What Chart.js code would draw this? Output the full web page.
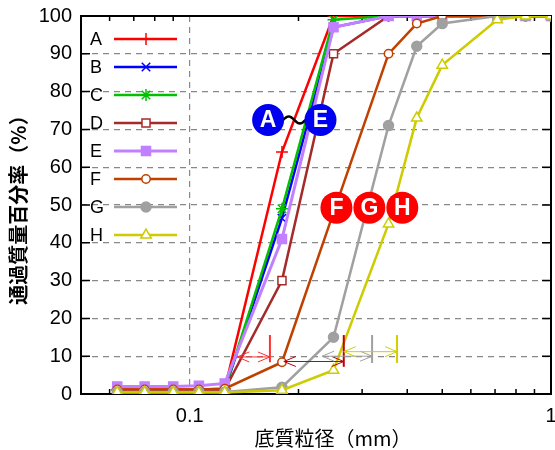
<!DOCTYPE html>
<html>
<head>
<meta charset="utf-8">
<script src="https://cdn.jsdelivr.net/npm/chart.js@4"></script>
<style>
  html, body { margin: 0; padding: 0; background: #fff; }
</style>
</head>
<body>
<canvas id="gradingChart" width="555" height="450"></canvas>
<script>
// Sieve sizes (mm) and percent passing for each sample
const sieveSizes = [0.063, 0.075, 0.090, 0.106, 0.125, 0.180, 0.250, 0.355, 0.425, 0.500, 0.710, 0.850, 1.000];
const seriesNames = ['A', 'B', 'C', 'D', 'E', 'F', 'G', 'H'];
const passA = [1.2, 1.2, 1.2, 1.2, 1.4, 64, 100, 100, 100, 100, 100, 100, 100];
const passB = [1, 1, 1, 1, 1.2, 46.5, 97, 100, 100, 100, 100, 100, 100];
const passC = [1, 1, 1, 1, 1.2, 49, 99, 100, 100, 100, 100, 100, 100];
const passD = [1, 1, 1, 1, 1.2, 30, 90, 100, 100, 100, 100, 100, 100];
const passE = [2, 2, 2, 2.2, 2.8, 41, 97, 100, 100, 100, 100, 100, 100];
const passF = [1.2, 1.2, 1.2, 1.2, 1.4, 8.4, 48, 90, 98, 100, 100, 100, 100];
const passG = [0.5, 0.5, 0.5, 0.5, 0.5, 1.8, 15, 71, 92, 98, 100, 100, 100];
const passH = [0.4, 0.4, 0.4, 0.4, 0.4, 1, 6.3, 45, 73, 87, 99, 100, 100];

// Axis ticks
const xTickLabels = [0.1, 1];
const xMinorTicks = [0.06, 0.07, 0.08, 0.09, 0.2, 0.3, 0.4, 0.5, 0.6, 0.7, 0.8, 0.9];
const yTicks = [0, 10, 20, 30, 40, 50, 60, 70, 80, 90, 100];

// D10 range arrows: start size, end size, percent level, bar from / to
const arrowFrom = [0.1354, 0.1822, 0.2325, 0.2669];
const arrowTo = [0.1667, 0.2669, 0.3197, 0.3748];
const arrowLevel = [9.8, 8.6, 10.0, 11.2];
const arrowBarTop = [15.6, 15.6, 15.6, 15.6];
const arrowBarBottom = [8.4, 7.2, 8.2, 8.2];
const arrowColors = ['#ff3030', '#c00000', '#a0a0a0', '#d0d000'];

// Group badges placed in data coordinates
const badgeText = ['A', 'E', 'F', 'G', 'H'];
const badgeSize = [0.1648, 0.2301, 0.2547, 0.3142, 0.3876];
const badgeLevel = [72.5, 72.5, 49.3, 49.3, 49.3];
const badgeColors = ['#0000f0', '#0000f0', '#ff0000', '#ff0000', '#ff0000'];

const seriesValues = [passA, passB, passC, passD, passE, passF, passG, passH];
const seriesColors = ['#ff0000', '#0000ff', '#00c000', '#a52a2a', '#c080ff', '#c04000', '#a0a0a0', '#cccc00'];
const seriesStyles = ['cross', 'crossRot', 'star', 'rect', 'rect', 'circle', 'circle', 'triangle'];
const seriesFill = [null, null, null, '#fff', '#c080ff', '#fff', '#a0a0a0', '#fff'];
const seriesRadius = [6, 6, 6, 5.7, 6.4, 4.2, 5, 6];

const latin = 'Liberation Sans, Arial, sans-serif';
const cjk = '"Noto Sans CJK JP", sans-serif';

const datasets = seriesNames.map((name, i) => ({
  label: name,
  data: sieveSizes.map((s, j) => ({ x: s, y: seriesValues[i][j] })),
  borderColor: seriesColors[i],
  borderWidth: i === 4 ? 3 : 2.5,
  pointStyle: seriesStyles[i],
  pointRadius: seriesRadius[i],
  pointBorderWidth: 1.5,
  pointBorderColor: seriesColors[i],
  pointBackgroundColor: seriesFill[i] || seriesColors[i],
  tension: 0,
  fill: false,
  order: seriesNames.length - i // later series end up on top
}));

// Frame, inward ticks and axis titles
const framePlugin = {
  id: 'frame',
  beforeDatasetsDraw(chart) {
    const { ctx, chartArea: a, scales } = chart;
    ctx.save();
    ctx.strokeStyle = '#000';
    ctx.lineWidth = 1.5;
    ctx.beginPath();
    yTicks.forEach(v => {
      const y = scales.y.getPixelForValue(v);
      ctx.moveTo(a.left, y); ctx.lineTo(a.left + 9, y);
      ctx.moveTo(a.right, y); ctx.lineTo(a.right - 9, y);
    });
    xMinorTicks.forEach(v => {
      const x = scales.x.getPixelForValue(v);
      ctx.moveTo(x, a.bottom); ctx.lineTo(x, a.bottom - 5);
      ctx.moveTo(x, a.top); ctx.lineTo(x, a.top + 5);
    });
    ctx.stroke();
    ctx.lineWidth = 2;
    ctx.strokeRect(a.left, a.top, a.right - a.left, a.bottom - a.top);
    ctx.restore();
  },
  afterDraw(chart) {
    const { ctx, chartArea: a } = chart;
    ctx.save();
    ctx.fillStyle = '#000';
    ctx.textAlign = 'center';
    ctx.textBaseline = 'middle';
    ctx.font = '20px ' + cjk;
    ctx.fillText('底質粒径（mm）', (a.left + a.right) / 2 + 17, a.bottom + 44);
    ctx.translate(a.left - 63, (a.top + a.bottom) / 2);
    ctx.rotate(-Math.PI / 2);
    ctx.font = 'bold 20px ' + cjk;
    ctx.fillText('通過質量百分率（%）', 0, 0);
    ctx.restore();
  }
};

// Legend inside the plot, arrows and badges
const notesPlugin = {
  id: 'notes',
  afterDatasetsDraw(chart) {
    const { ctx, chartArea: a, scales } = chart;
    ctx.save();

    // legend rows
    datasets.forEach((ds, i) => {
      const y = a.top + 23 + i * 28;
      ctx.fillStyle = '#000';
      ctx.font = '18px ' + latin;
      ctx.textAlign = 'left';
      ctx.textBaseline = 'middle';
      ctx.fillText(ds.label, a.left + 9, y + 1);
      ctx.strokeStyle = ds.borderColor;
      ctx.lineWidth = ds.borderWidth;
      ctx.beginPath();
      ctx.moveTo(a.left + 33, y); ctx.lineTo(a.left + 96, y);
      ctx.stroke();
      ctx.fillStyle = ds.pointBackgroundColor;
      ctx.lineWidth = ds.pointBorderWidth;
      Chart.helpers.drawPoint(ctx, {
        pointStyle: ds.pointStyle, radius: ds.pointRadius, rotation: 0, borderWidth: ds.pointBorderWidth
      }, a.left + 65, y);
    });

    // D10 arrows
    arrowFrom.forEach((from, i) => {
      const x0 = scales.x.getPixelForValue(from);
      const x1 = scales.x.getPixelForValue(arrowTo[i]);
      const y = scales.y.getPixelForValue(arrowLevel[i]);
      ctx.strokeStyle = arrowColors[i];
      ctx.lineWidth = 1;
      ctx.beginPath();
      ctx.moveTo(x0, y); ctx.lineTo(x1, y);
      ctx.moveTo(x0 + 12, y - 5); ctx.lineTo(x0, y); ctx.lineTo(x0 + 12, y + 5);
      ctx.moveTo(x1 - 12, y - 5); ctx.lineTo(x1, y); ctx.lineTo(x1 - 12, y + 5);
      ctx.stroke();
      ctx.lineWidth = 2;
      ctx.beginPath();
      ctx.moveTo(x1, scales.y.getPixelForValue(arrowBarTop[i]));
      ctx.lineTo(x1, scales.y.getPixelForValue(arrowBarBottom[i]));
      ctx.stroke();
    });

    // tilde between the A and E badges
    const tx0 = scales.x.getPixelForValue(badgeSize[0]) + 15;
    const tx1 = scales.x.getPixelForValue(badgeSize[1]) - 15;
    const ty = scales.y.getPixelForValue(badgeLevel[0]);
    ctx.strokeStyle = '#000';
    ctx.lineWidth = 2.5;
    ctx.beginPath();
    for (let k = 0; k <= 20; k++) {
      const t = k / 20;
      const px = tx0 + (tx1 - tx0) * t;
      const py = ty - 3.5 * Math.sin(t * 2 * Math.PI);
      if (k === 0) ctx.moveTo(px, py); else ctx.lineTo(px, py);
    }
    ctx.stroke();

    // badges
    badgeText.forEach((t, i) => {
      const x = scales.x.getPixelForValue(badgeSize[i]);
      const y = scales.y.getPixelForValue(badgeLevel[i]);
      ctx.fillStyle = badgeColors[i];
      ctx.beginPath();
      ctx.arc(x, y, 16, 0, Math.PI * 2);
      ctx.fill();
      ctx.fillStyle = '#fff';
      ctx.font = 'bold 23px ' + latin;
      ctx.textAlign = 'center';
      ctx.textBaseline = 'middle';
      ctx.fillText(t, x, y + 1);
    });
    ctx.restore();
  }
};

new Chart(document.getElementById('gradingChart'), {
  type: 'line',
  data: { datasets },
  options: {
    responsive: false,
    animation: false,
    layout: { autoPadding: false, padding: { top: 16, right: 0, left: 0, bottom: 0 } },
    plugins: { legend: { display: false }, tooltip: { enabled: false } },
    scales: {
      x: {
        type: 'logarithmic',
        min: 0.05,
        max: 1,
        afterBuildTicks: s => { s.ticks = xTickLabels.map(v => ({ value: v })); },
        ticks: {
          autoSkip: false, maxRotation: 0, padding: 10, color: '#000',
          font: { family: latin, size: 20 },
          callback: v => String(v)
        },
        grid: {
          drawTicks: false,
          lineWidth: 1.2,
          color: c => (c.tick && c.tick.value === 0.1) ? '#888' : 'rgba(0,0,0,0)'
        },
        border: { display: false, dash: [6, 5] },
        afterFit: s => { s.height = 56; s.paddingLeft = 0; s.paddingRight = 4; }
      },
      y: {
        min: 0,
        max: 100,
        afterBuildTicks: s => { s.ticks = yTicks.map(v => ({ value: v })); },
        ticks: {
          padding: 9, color: '#000',
          font: { family: latin, size: 20 }
        },
        grid: {
          drawTicks: false,
          lineWidth: 1.2,
          color: c => (c.tick && c.tick.value > 0 && c.tick.value < 100) ? '#888' : 'rgba(0,0,0,0)'
        },
        border: { display: false, dash: [6, 5] },
        afterFit: s => { s.width = 81; s.paddingTop = 0; s.paddingBottom = 0; }
      }
    }
  },
  plugins: [framePlugin, notesPlugin]
});
</script>
</body>
</html>
